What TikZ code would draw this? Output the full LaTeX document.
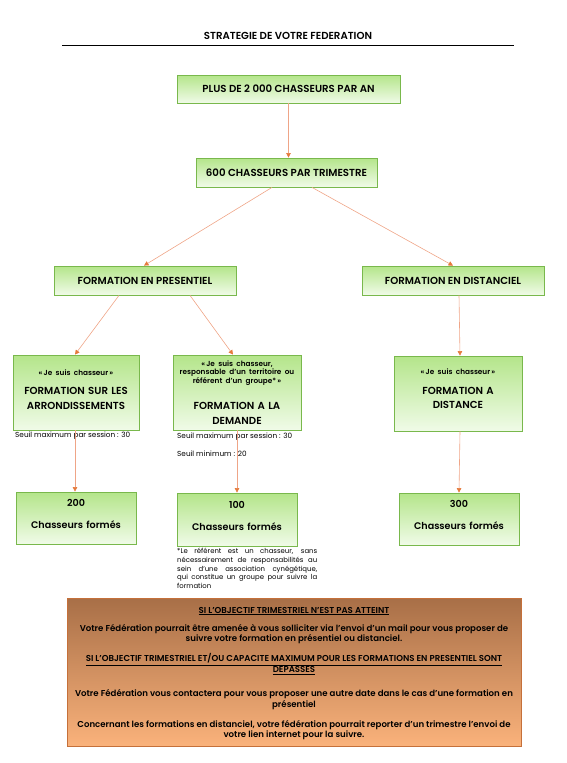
\documentclass[tikz,border=0pt]{standalone}
\usepackage{fontspec}
\setmainfont{Poppins}[BoldFont={Poppins SemiBold}]
\usetikzlibrary{arrows.meta}

\definecolor{boxtop}{HTML}{B4E58A}
\definecolor{boxbot}{HTML}{F0FBE8}
\definecolor{boxline}{HTML}{79B84C}
\definecolor{linkcol}{HTML}{EFA587}
\definecolor{tipcol}{HTML}{E57A3C}
\definecolor{notetop}{HTML}{A86F47}
\definecolor{notebot}{HTML}{FAB27B}
\definecolor{noteline}{HTML}{C5703A}

\newcommand\headtxt{\fontsize{10.2}{11}\selectfont\bfseries}
\newcommand\smalltxt{\fontsize{7.3}{8.5}\selectfont\bfseries}
\newcommand\bigtxt{\fontsize{10.2}{14.5}\selectfont\bfseries}
\newcommand\numtxt{\fontsize{9.6}{11}\selectfont\bfseries}
\newcommand\seuiltxt{\fontsize{7.3}{8}\selectfont}
\newcommand\notetxt{\fontsize{8.6}{10.6}\selectfont\bfseries}
\newcommand\lift[1]{\par\vspace{#1}\hrule height 0pt width 0pt}

\begin{document}
\begin{tikzpicture}[x=1pt,y=-1pt,
    box/.style={draw=boxline,line width=0.8pt,top color=boxtop,bottom color=boxbot,
      align=center,inner xsep=1pt,inner ysep=0pt},
    link/.style={draw=linkcol,line width=0.6pt,-{Triangle[length=4.5pt,width=4.5pt,color=tipcol]}}]
    \useasboundingbox (0,0) rectangle (567,763);

    % title
    \node[font=\headtxt] (title) at (288,36) {STRATEGIE DE VOTRE FEDERATION};
    \coordinate (t1) at (62,45);
    \coordinate (t2) at (514,45);
    \draw[line width=0.8pt] (t1) -- (t2);

    % top levels
    \node[box,minimum width=223pt,minimum height=28pt,font=\headtxt] (b1) at (288.5,89) {PLUS DE 2 000 CHASSEURS PAR AN};
    \node[box,minimum width=181pt,minimum height=29pt,font=\headtxt] (b2) at (286.5,172.5) {600 CHASSEURS PAR TRIMESTRE};
    \draw (b1.south) edge[link] (b1.south |- b2.north);

    \node[box,minimum width=182pt,minimum height=29pt,font=\headtxt] (b3) at (145,280.5) {FORMATION EN PRESENTIEL};
    \node[box,minimum width=182pt,minimum height=29pt,font=\headtxt] (b4) at (453,280.5) {FORMATION EN DISTANCIEL};
    \draw ([xshift=-14.5pt]b2.south) edge[link] ([xshift=-1pt]b3.north);
    \draw ([xshift=25.5pt]b2.south) edge[link] (b4.north);

    % formations
    \node[box,minimum width=126pt,minimum height=75pt,text width=124pt] (b5) at (76,392.5)
        {\smalltxt «\,Je suis chasseur\,»\par\vspace{5pt}\bigtxt FORMATION SUR LES\\ARRONDISSEMENTS\lift{6pt}};
    \node[box,minimum width=128pt,minimum height=75pt,text width=126pt] (b6) at (237,392.5)
        {\smalltxt «\,Je suis chasseur,\\responsable d’un territoire ou\\référent d’un groupe*\,»\par\vspace{12pt}\bigtxt FORMATION A LA\\DEMANDE\par};
    \node[box,minimum width=128pt,minimum height=75pt,text width=126pt] (b7) at (458,393.5)
        {\smalltxt «\,Je suis chasseur\,»\par\vspace{5pt}\bigtxt FORMATION A\\DISTANCE\lift{9pt}};
    \draw ([xshift=-26pt]b3.south) edge[link] ([xshift=-1pt]b5.north);
    \draw ([xshift=45pt]b3.south) edge[link] ([xshift=-4pt]b6.north);
    \draw ([xshift=6pt]b4.south) edge[link] ([xshift=2pt]b7.north);

    \node[anchor=west,font=\seuiltxt,inner sep=0pt] (s5) at (15,436) {Seuil maximum par session : 30};
    \node[anchor=west,font=\seuiltxt,inner sep=0pt] (s6) at (177,437) {Seuil maximum par session : 30};
    \node[anchor=west,font=\seuiltxt,inner sep=0pt] (s7) at (177,454) {Seuil minimum : 20};

    % results
    \node[box,minimum width=120pt,minimum height=52pt,text width=118pt] (b8) at (76,518)
        {\numtxt 200\par\vspace{11pt}Chasseurs formés\lift{8pt}};
    \node[box,minimum width=120pt,minimum height=53pt,text width=118pt] (b9) at (237,519.5)
        {\numtxt 100\par\vspace{11pt}Chasseurs formés\lift{8pt}};
    \node[box,minimum width=120pt,minimum height=52pt,text width=118pt] (b10) at (459,519)
        {\numtxt 300\par\vspace{11pt}Chasseurs formés\lift{8pt}};
    \draw ([xshift=-1pt]b5.south) edge[link] ([xshift=-1pt]b8.north);
    \draw (b6.south) edge[link] (b9.north);
    \draw ([xshift=2pt]b7.south) edge[link] (b10.north);

    \node[anchor=north west,inner sep=0pt,text width=140pt,align=justify,
        font=\fontsize{6.9}{8.7}\selectfont] (note) at (177,548)
        {\hyphenpenalty=10000 *Le référent est un chasseur, sans\linebreak nécessairement de responsabilités au\linebreak sein d’une association cynégétique,\linebreak qui constitue un groupe pour suivre la\linebreak formation\par};

    % bottom frame
    \node[draw=noteline,line width=0.8pt,top color=notetop,bottom color=notebot,
        minimum width=454pt,minimum height=148pt,inner sep=0pt] (frame) at (294,672) {};
    \node[font=\notetxt] (h1) at (294,611) {\underline{SI L’OBJECTIF TRIMESTRIEL N’EST PAS ATTEINT}};
    \node[font=\notetxt,align=center] (p1) at (294,634)
        {Votre Fédération pourrait être amenée à vous solliciter via l’envoi d’un mail pour vous proposer de\\suivre votre formation en présentiel ou distanciel.};
    \node[font=\notetxt,align=center] (h2) at (294,664)
        {\underline{SI L’OBJECTIF TRIMESTRIEL ET/OU CAPACITE MAXIMUM POUR LES FORMATIONS EN PRESENTIEL SONT}\\\underline{DEPASSES}};
    \node[font=\notetxt,align=center] (p2) at (294,699.5)
        {Votre Fédération vous contactera pour vous proposer une autre date dans le cas d’une formation en\\présentiel};
    \node[font=\notetxt,align=center] (p3) at (294,730)
        {Concernant les formations en distanciel, votre fédération pourrait reporter d’un trimestre l’envoi de\\votre lien internet pour la suivre.};
\end{tikzpicture}
\end{document}
